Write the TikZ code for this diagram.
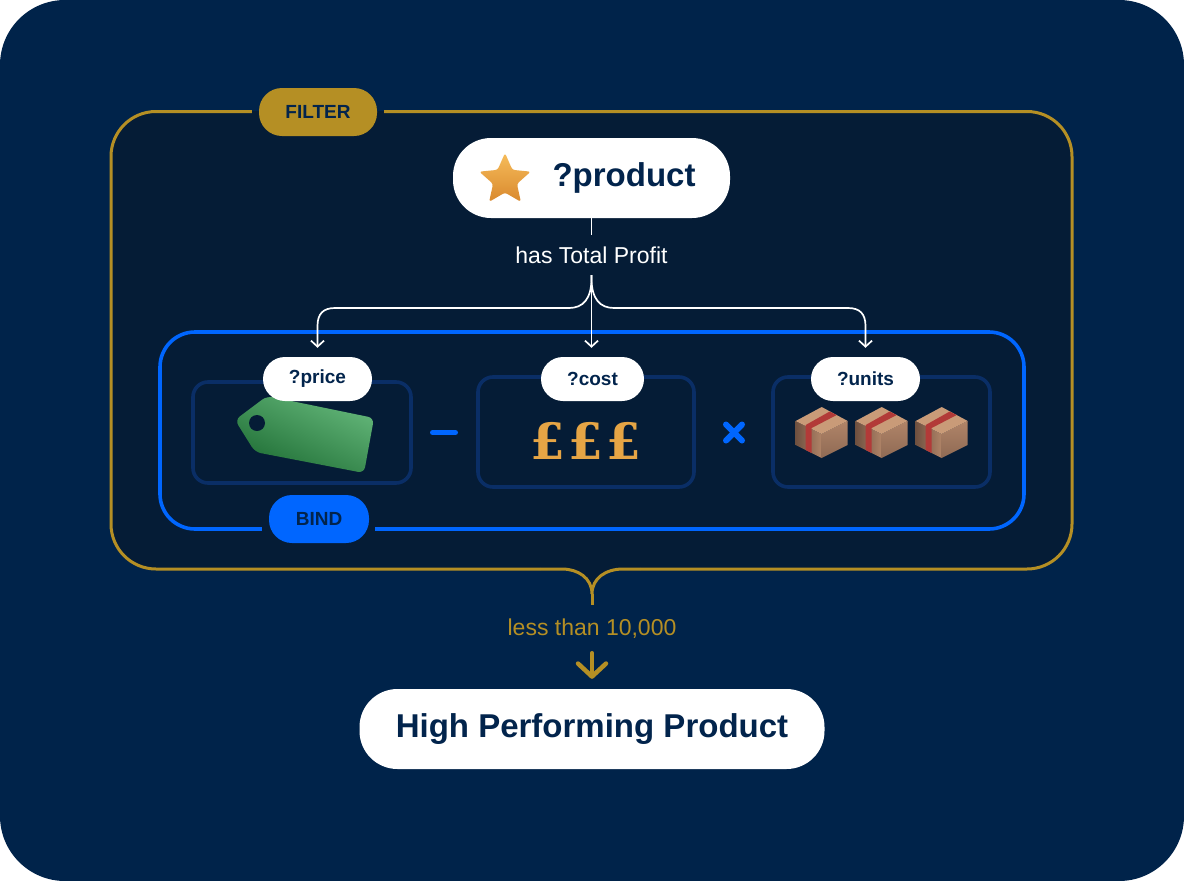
\documentclass[tikz,border=0pt]{standalone}
\usepackage{fontspec}
\setmainfont{Liberation Sans}
\newfontfamily\poundfont{DejaVu Serif}
\usepackage{tikz}
\usetikzlibrary{arrows.meta}
\usetikzlibrary{shapes.geometric}
\definecolor{navybg}{HTML}{00234A}
\definecolor{panelbg}{HTML}{051C36}
\definecolor{inktext}{HTML}{02244C}
\definecolor{filtergold}{HTML}{B58F24}
\definecolor{bindblue}{HTML}{0066FF}
\definecolor{cardline}{HTML}{0A2E66}
\definecolor{poundgold}{HTML}{E6A545}
\definecolor{taglight}{HTML}{62B578}
\definecolor{tagdark}{HTML}{1F6E35}
\definecolor{starlight}{HTML}{F6BC5A}
\definecolor{stardark}{HTML}{D9892E}
\definecolor{parceltop}{HTML}{C99B78}
\definecolor{parcelleft}{HTML}{B08468}
\definecolor{parcelshade}{HTML}{6F5040}
\definecolor{parcelright}{HTML}{8F6A54}
\definecolor{parcelred}{HTML}{B23A38}
\tikzset{
  pill/.style={fill=white,rounded corners=22pt,text=inktext,font=\fontsize{19}{22}\selectfont\bfseries,minimum height=44pt,inner sep=0pt},
  bigpill/.style={fill=white,rounded corners=38pt,text=inktext,font=\fontsize{33}{38}\selectfont\bfseries,minimum height=80pt,inner sep=0pt},
  tagpill/.style={rounded corners=23pt,text=inktext,font=\fontsize{19}{22}\selectfont\bfseries,minimum height=48pt,inner sep=0pt},
  card/.style={draw=cardline,line width=3.6pt,rounded corners=15pt},
  edgelabel/.style={font=\fontsize{23}{26}\selectfont,inner sep=0pt},
  whitearrow/.style={draw=white,line width=1.7pt,-{Straight Barb[length=6pt,width=13pt,line width=1.7pt]},shorten >=9pt},
  whiteline/.style={draw=white,line width=1.7pt}
}
\begin{document}
\begin{tikzpicture}[x=1pt,y=-1pt]
  \useasboundingbox (0,0) rectangle (1184,881);
  \fill[white] (0,0) rectangle (1184,881);
  \fill[navybg,rounded corners=65pt] (0,0) rectangle (1184,881);
  \fill[panelbg,rounded corners=45pt] (111,111) -- (1072,111) -- (1072,569) -- (623,569) -- (562,569) -- (111,569) -- cycle;
  \fill[panelbg] (623,569) .. controls (606,569) and (592,578) .. (592,594) .. controls (592,578) and (578,569) .. (562,569) -- cycle;

  \draw[card] (193,382) rectangle (411,483);
  \draw[card] (478,377) rectangle (694,487);
  \draw[card] (773,377) rectangle (990,487);

  % price tag
  \shade[rounded corners=6pt,top color=taglight,bottom color=tagdark,shading angle=-25]
    (267,396) -- (235,420) -- (255,452) -- (364,473) -- (374,418) -- cycle;
  \fill[panelbg] (257,423) circle (8pt);

  \node[pill,minimum width=109pt] (price) at (317.5,379) {?price};
  \node[pill,minimum width=103pt] (cost) at (592.5,379) {?cost};
  \node[pill,minimum width=109pt] (units) at (865.5,379) {?units};

  \node[tagpill,fill=filtergold,minimum width=118pt] (filter) at (318,112) {FILTER};
  \node[tagpill,fill=bindblue,minimum width=100pt] (bind) at (319,519) {BIND};

  \draw[filtergold,line width=3pt,rounded corners=45pt] ([xshift=-7pt]filter.west |- 0,111.5) -- (111,111.5) -- (111,569) -- (540,569);
  \draw[filtergold,line width=3pt,rounded corners=45pt] ([xshift=7pt]filter.east |- 0,111.5) -- (1072,111.5) -- (1072,569) -- (640,569);
  \draw[bindblue,line width=3.6pt,rounded corners=35pt] ([xshift=-7pt]bind.west |- 0,529) -- (160,529) -- (160,332) -- (1024,332) -- (1024,529) -- ([xshift=6pt]bind.east |- 0,529);

  \node[bigpill,minimum width=277pt] (product) at (591.5,178) {};
  \node[star,star points=5,star point ratio=2.15,rounded corners=2.5pt,top color=starlight,bottom color=stardark,inner sep=0pt,minimum size=54pt] (staricon) at (505,180) {};
  \node[text=inktext,font=\fontsize{33}{38}\selectfont\bfseries,inner sep=0pt] (productname) at (624,178) {?product};
  \node[edgelabel,text=white,minimum height=40pt] (profit) at (591.5,255) {has Total Profit};
  \node[edgelabel,text=filtergold,minimum height=48pt] (lessthan) at (592,629) {less than 10,000};
  \node[bigpill,minimum width=465pt] (result) at (592,729) {High Performing Product};

  % parcels
  \foreach \px [count=\i] in {821.7,881.7,941.7}{
    \begin{scope}[shift={(\px,433)}]
      \shade[left color=parcelshade,right color=parcelleft] (-26,-12) -- (0,1) -- (0,25) -- (-26,12) -- cycle;
      \shade[top color=parcelleft,bottom color=parcelright] (26,-12) -- (0,1) -- (0,25) -- (26,12) -- cycle;
      \fill[parceltop] (0,-26) -- (26,-12) -- (0,1) -- (-26,-12) -- cycle;
      \fill[parcelred] (-16,-8) -- (8,-21.5) -- (15,-18) -- (-10,-5) -- (-10,20) -- (-16,17) -- cycle;
    \end{scope}
  }

  % pounds
  \foreach \qx [count=\i] in {548,586,624}{
    \node[text=poundgold,font=\poundfont\fontsize{50}{54}\selectfont\bfseries,inner sep=0pt] (pound\i) at (\qx,441) {£};
  }

  \draw[bindblue,line width=5pt,line cap=round] (432.5,432.5) -- (455.5,432.5);
  \draw[bindblue,line width=6pt,line cap=round] (726,424.5) -- (742,440.5);
  \draw[bindblue,line width=6pt,line cap=round] (742,424.5) -- (726,440.5);

  \draw[whiteline] (product.south) -- (profit.north);
  \draw[whitearrow] (profit.south) -- (profit.south |- cost.north);
  \draw[whitearrow] (profit.south) -- ++(0,3) .. controls (591.5,299) and (600,308) .. (614,308) -- (848,308) .. controls (860,308) and (865.5,314) .. (865.5,326) -- (units.north);
  \draw[whitearrow] (profit.south) -- ++(0,3) .. controls (591.5,299) and (583,308) .. (569,308) -- (335,308) .. controls (323,308) and (317.5,314) .. (317.5,326) -- (price.north);

  \draw[filtergold,line width=3pt] (540,569) -- (562,569) .. controls (578,569) and (592,578) .. (592,594) .. controls (592,578) and (606,569) .. (623,569) -- (640,569);
  \draw[filtergold,line width=3pt] (592,594) -- (lessthan.north);
  \draw[filtergold,line width=4.5pt,line cap=round,-{Straight Barb[length=13pt,width=28pt,line width=4.5pt,round]},shorten >=10pt] (lessthan.south) -- (result.north);
\end{tikzpicture}
\end{document}
